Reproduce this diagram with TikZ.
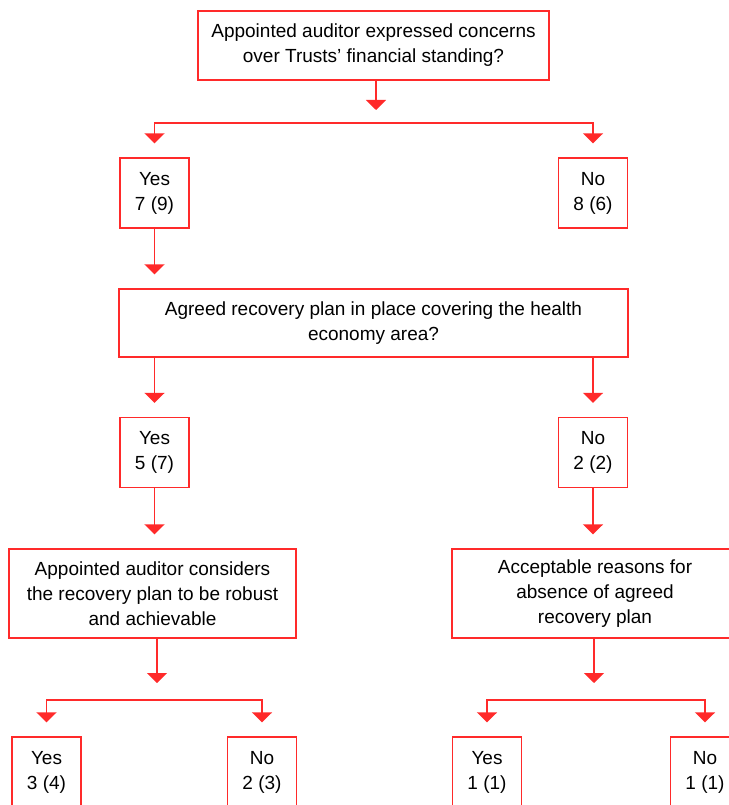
\documentclass[tikz,border=0pt]{standalone}
\usepackage{fontspec}
\setmainfont{Liberation Sans}
\usetikzlibrary{
    arrows.meta,
    calc,
    positioning
}
\definecolor{flowred}{RGB}{255,42,42}

\tikzset{
    qbox/.style={draw=flowred, line width=1.3pt, align=center, inner sep=0pt,
        font=\fontsize{19}{25}\selectfont},
    abox/.style={qbox, minimum width=69, minimum height=70},
    arr/.style={draw=flowred, line width=1.5pt,
        -{Triangle[width=20pt,length=10pt]}, shorten >=14pt}
}

\begin{document}
\begin{tikzpicture}[x=1pt, y=-1pt]
    \useasboundingbox (0,0) rectangle (728,805);

    \node[qbox, minimum width=351, minimum height=69] (q1) at (373.5, 45.5) {Appointed auditor expressed concerns\\over Trusts' financial standing?};
    \node[abox] (y1) at (154.5, 193) {Yes\\7 (9)};
    \node[abox] (n1) at (593, 193) {No\\8 (6)};
    \node[qbox, minimum width=509, minimum height=68] (q2) at (373.5, 323) {Agreed recovery plan in place covering the health\\economy area?};
    \node[abox] (y2) at (154.5, 452.5) {Yes\\5 (7)};
    \node[abox] (n2) at (593, 452.5) {No\\2 (2)};
    \node[qbox, minimum width=287, minimum height=89] (q3) at (152.5, 593.5) {Appointed auditor considers\\the recovery plan to be robust\\and achievable};
    \node[qbox, minimum width=286, minimum height=89] (q4) at (595, 593.5) {Acceptable reasons for\\absence of agreed\\recovery plan};
    \node[abox] (y3) at (46.5, 772) {Yes\\3 (4)};
    \node[abox] (n3) at (262, 772) {No\\2 (3)};
    \node[abox] (y4) at (487, 772) {Yes\\1 (1)};
    \node[abox] (n4) at (705, 772) {No\\1 (1)};

    % split points
    \coordinate (s1) at (376, 123);
    \coordinate (s3) at (157, 700);
    \coordinate (s4) at (594, 700);

    \draw[arr, shorten >=13pt] (q1.south -| s1) -- (s1);
    \draw[arr] (s1) -| (y1.north);
    \draw[arr] (s1) -| (n1.north);
    \draw[arr] (y1) -- (q2.north -| y1);
    \draw[arr] (q2.south -| y2) -- (y2);
    \draw[arr] (q2.south -| n2) -- (n2);
    \draw[arr] (y2) -- (q3.north -| y2);
    \draw[arr] (n2) -- (q4.north -| n2);
    \draw[arr, shorten >=17pt] (q3.south -| s3) -- (s3);
    \draw[arr] (s3) -| (y3.north);
    \draw[arr] (s3) -| (n3.north);
    \draw[arr, shorten >=17pt] (q4.south -| s4) -- (s4);
    \draw[arr] (s4) -| (y4.north);
    \draw[arr] (s4) -| (n4.north);
\end{tikzpicture}
\end{document}
